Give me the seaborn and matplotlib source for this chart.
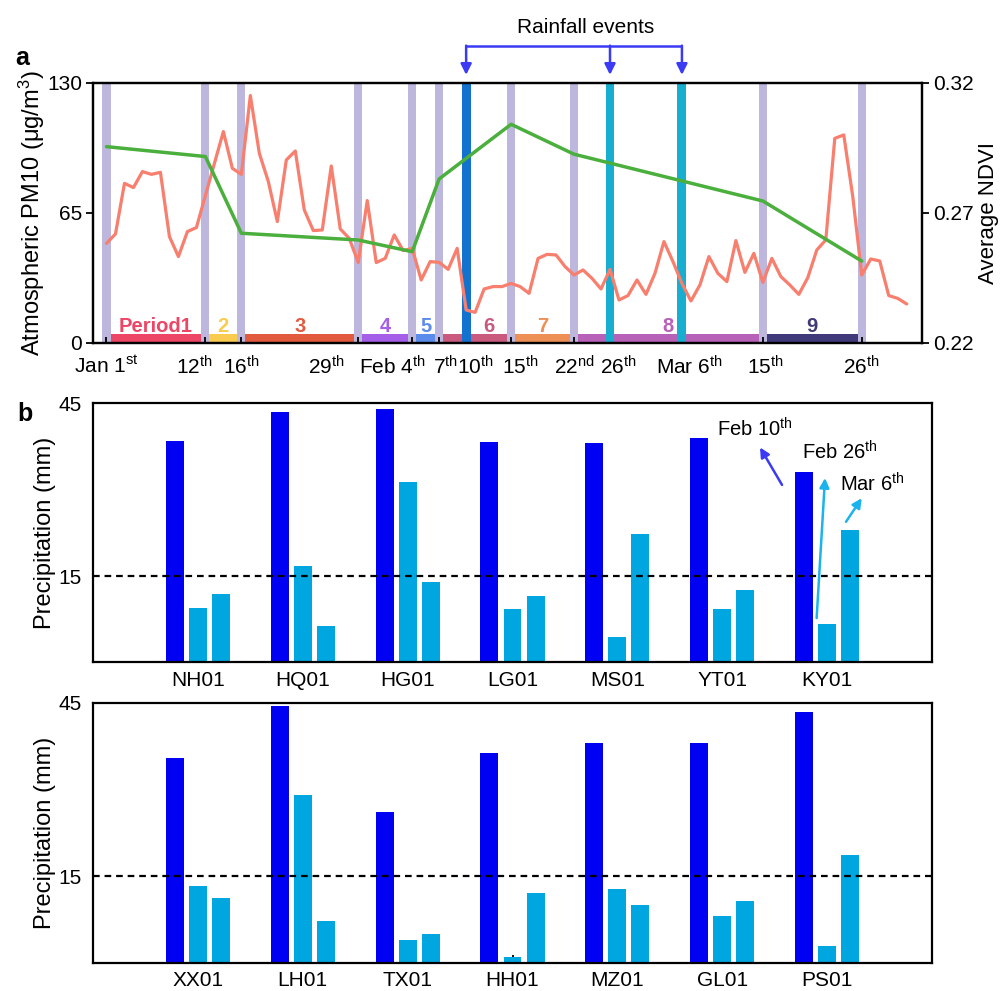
import numpy as np
import pandas as pd
import matplotlib
matplotlib.use('Agg')
import matplotlib.pyplot as plt
import matplotlib.transforms as mtransforms
import seaborn as sns

# ---------------- data : panel a ----------------
# daily PM10 (ug/m3), Jan 1st .. Mar 31st (day index 0..89)
pm10 = [49.8, 54.5, 79.8, 77.7, 85.7, 84.3, 85.3, 53.2, 43.2, 55.7,
        57.7, 73.7, 89.7, 105.7, 87.3, 84.3, 123.7, 94.8, 80.7, 60.7,
        91.5, 96.0, 66.5, 56.2, 56.5, 88.5, 57.0, 52.3, 40.2, 71.2,
        40.2, 42.3, 54.0, 46.2, 47.3, 31.5, 40.7, 40.3, 36.8, 47.3,
        16.5, 15.3, 27.0, 28.2, 28.2, 29.8, 28.2, 24.8, 42.3, 44.3,
        44.0, 38.2, 34.0, 36.5, 32.3, 27.0, 36.8, 21.5, 23.7, 31.5,
        24.3, 34.8, 50.7, 40.7, 29.8, 21.0, 29.0, 43.2, 34.8, 30.7,
        51.2, 35.3, 44.8, 30.3, 42.3, 33.2, 29.0, 24.3, 32.7, 46.5,
        51.5, 102.3, 104.0, 73.2, 34.0, 42.0, 41.0, 23.7, 22.3, 19.5]

# image acquisition days (days since Jan 1st) and average NDVI
image_days = [0, 11, 15, 28, 34, 37, 45, 52, 73, 84]
ndvi = [0.2955, 0.2917, 0.2622, 0.2596, 0.2551, 0.2831, 0.3041, 0.2926, 0.2746, 0.2515]

# rainfall events (days since Jan 1st)
rain_days = [40, 56, 64]

# x tick days and labels
tick_days = [0, 11, 15, 28, 34, 37, 40, 45, 52, 56, 64, 73, 84]
tick_labels = ['Jan 1$^{\\mathrm{st}}$', '12$^{\\mathrm{th}}$', '16$^{\\mathrm{th}}$',
               '29$^{\\mathrm{th}}$', 'Feb 4$^{\\mathrm{th}}$', '7$^{\\mathrm{th}}$',
               '10$^{\\mathrm{th}}$', '15$^{\\mathrm{th}}$', '22$^{\\mathrm{nd}}$',
               '26$^{\\mathrm{th}}$', 'Mar 6$^{\\mathrm{th}}$', '15$^{\\mathrm{th}}$',
               '26$^{\\mathrm{th}}$']

# periods
period_names = ['Period1', '2', '3', '4', '5', '6', '7', '8', '9']
period_start = [0, 11, 15, 28, 34, 37, 45, 52, 73]
period_end = [11, 15, 28, 34, 37, 45, 52, 73, 84]

# ---------------- data : panel b ----------------
events = ['Feb 10th', 'Feb 26th', 'Mar 6th']
sites_1 = ['NH01', 'HQ01', 'HG01', 'LG01', 'MS01', 'YT01', 'KY01']
feb10_1 = [38.4, 43.4, 44.0, 38.3, 38.0, 39.0, 33.1]
feb26_1 = [9.4, 16.8, 31.3, 9.2, 4.4, 9.3, 6.7]
mar6_1 = [11.8, 6.4, 13.9, 11.5, 22.2, 12.5, 22.9]

sites_2 = ['XX01', 'LH01', 'TX01', 'HH01', 'MZ01', 'GL01', 'PS01']
feb10_2 = [35.5, 44.4, 26.2, 36.4, 38.0, 38.1, 43.5]
feb26_2 = [13.3, 29.0, 3.9, 1.1, 12.8, 8.1, 2.9]
mar6_2 = [11.3, 7.3, 5.0, 12.1, 10.0, 10.7, 18.6]

threshold = 15

# ---------------- styles ----------------
LAV = '#BDB7DD'
RED = '#F87E6E'
GREEN = '#4BAF3D'
RAIN_COLORS = ['#1372CD', '#17AECF', '#17AECF']
PERIOD_COLORS = ['#EC4565', '#F9CC50', '#E25A3E', '#A45EE8', '#5B8BEB',
                 '#C95A7D', '#EE9055', '#B861B8', '#403A7A']
DARK_BLUE = '#0000F2'
LIGHT_BLUE = '#00A6DF'
ARROW_BLUE = '#3B3BF5'
ARROW_CYAN = '#1BB3EE'

sns.set_theme(style='white')
plt.rcParams['font.family'] = ['Liberation Sans', 'DejaVu Sans']
plt.rcParams['mathtext.fontset'] = 'custom'
plt.rcParams['mathtext.rm'] = 'Liberation Sans'
plt.rcParams['mathtext.it'] = 'Liberation Sans:italic'
plt.rcParams['mathtext.bf'] = 'Liberation Sans:bold'
for k in ['text.color', 'axes.labelcolor', 'xtick.color', 'ytick.color', 'axes.edgecolor']:
    plt.rcParams[k] = 'black'

fig = plt.figure(figsize=(10, 9.91), dpi=100)
axA = fig.add_axes([0.093, 0.6539, 0.829, 0.2624])
axB1 = fig.add_axes([0.093, 0.3315, 0.839, 0.2618])
axB2 = fig.add_axes([0.093, 0.0283, 0.839, 0.2624])

# ---------------- panel a ----------------
for d in image_days:
    axA.axvspan(d - 0.45, d + 0.45, color=LAV, lw=0, zorder=0.5)
for name, s, e, c in zip(period_names, period_start, period_end, PERIOD_COLORS):
    axA.bar((s + e) / 2, 4.5, width=(e - s) - 0.9, bottom=0, color=c, lw=0, zorder=0.6)
    if name == '6':
        xm = (rain_days[0] + e) / 2
    else:
        xm = (s + e) / 2
    axA.text(xm, 5.6, name, ha='center', va='baseline', color=c,
             fontsize=14.5, fontweight='bold', zorder=4)
for d, c in zip(rain_days, RAIN_COLORS):
    axA.axvspan(d - 0.5, d + 0.5, color=c, lw=0, zorder=0.8)

sns.lineplot(x=np.arange(len(pm10)), y=pm10, ax=axA, color=RED, lw=2.3, zorder=3)
axA.set_xlim(-1.5, 90.7)
axA.set_ylim(0, 130)
axA.set_yticks([0, 65, 130])
axA.set_xticks(tick_days)
axA.set_xticklabels(tick_labels)
axA.tick_params(axis='x', direction='in', length=4, width=1.3, labelsize=15, pad=9,
                bottom=True, top=False)
axA.tick_params(axis='y', direction='out', length=5, width=1.3, labelsize=15, left=True, pad=3)
axA.set_ylabel('Atmospheric PM10 (μg/m$^3$)', fontsize=17, labelpad=0)
axA.set_xlabel('')
label_shift_px = [0, -11, 0, -32, -20, 6, 9, 9, 0, 8, 7, 2, 0]
for lab, off in zip(axA.get_xticklabels(), label_shift_px):
    lab.set_transform(lab.get_transform() +
                      mtransforms.ScaledTranslation(off / 100, 0, fig.dpi_scale_trans))

axN = axA.twinx()
sns.lineplot(x=image_days, y=ndvi, ax=axN, color=GREEN, lw=2.5, zorder=3)
axN.set_ylim(0.22, 0.32)
axN.set_yticks([0.22, 0.27, 0.32])
axN.set_yticklabels(['%.2f' % v for v in [0.22, 0.27, 0.32]])
axN.tick_params(axis='y', direction='out', length=5, width=1.3, labelsize=15, right=True, pad=3)
axN.set_ylabel('Average NDVI', fontsize=16, labelpad=3)
for ax in (axA, axN):
    for sp in ax.spines.values():
        sp.set_linewidth(1.6)
        sp.set_color('black')

# rainfall bracket
trans = mtransforms.blended_transform_factory(axA.transData, axA.transAxes)
y_br = 1.1435
axA.plot([min(rain_days), max(rain_days)], [y_br, y_br], color=ARROW_BLUE, lw=1.8,
         transform=trans, clip_on=False, solid_capstyle='butt')
for d in rain_days:
    axA.annotate('', xy=(d, 1.031), xytext=(d, y_br), xycoords=trans, textcoords=trans,
                 arrowprops=dict(arrowstyle='-|>', color=ARROW_BLUE, lw=1.8,
                                 mutation_scale=16, shrinkA=0, shrinkB=0),
                 annotation_clip=False)
axA.text(np.mean(rain_days), 1.213, 'Rainfall events', transform=trans,
         ha='center', va='center', fontsize=15)

# ---------------- panel b ----------------
def bar_panel(ax, sites, v1, v2, v3):
    df = pd.DataFrame({
        'site': sites * 3,
        'event': [events[0]] * len(sites) + [events[1]] * len(sites) + [events[2]] * len(sites),
        'precip': v1 + v2 + v3,
    })
    sns.barplot(data=df, x='site', y='precip', hue='event', order=sites, hue_order=events,
                palette=[DARK_BLUE, LIGHT_BLUE, LIGHT_BLUE], width=0.66, gap=0.22,
                errorbar=None, legend=False, saturation=1, linewidth=0, ax=ax)
    ax.axhline(threshold, color='black', lw=1.6, ls=(0, (3, 2.2)), zorder=5)
    ax.set_xlim(-1, len(sites))
    ax.set_ylim(0, 45)
    ax.set_yticks([15, 45])
    ax.set_xlabel('')
    ax.set_ylabel('Precipitation (mm)', fontsize=17, labelpad=2)
    ax.tick_params(axis='x', direction='in', length=6, width=1.3, labelsize=15, pad=6,
                   bottom=True)
    ax.tick_params(axis='y', length=0, labelsize=15, pad=8)
    for sp in ax.spines.values():
        sp.set_linewidth(1.6)
        sp.set_color('black')

bar_panel(axB1, sites_1, feb10_1, feb26_1, mar6_1)
bar_panel(axB2, sites_2, feb10_2, feb26_2, mar6_2)

# event annotations (next to KY01)
axB1.text(5.31, 40.6, 'Feb 10$^{\\mathrm{th}}$', ha='center', va='center', fontsize=14.5)
axB1.text(6.12, 36.5, 'Feb 26$^{\\mathrm{th}}$', ha='center', va='center', fontsize=14.5)
axB1.text(6.43, 30.9, 'Mar 6$^{\\mathrm{th}}$', ha='center', va='center', fontsize=14.5)
arrow_kw = dict(arrowstyle='-|>', lw=1.8, mutation_scale=14, shrinkA=0, shrinkB=0)
axB1.annotate('', xy=(5.36, 37.3), xytext=(5.57, 30.8),
              arrowprops=dict(color=ARROW_BLUE, **arrow_kw))
axB1.annotate('', xy=(5.98, 32.0), xytext=(5.90, 7.7),
              arrowprops=dict(color=ARROW_CYAN, **arrow_kw))
axB1.annotate('', xy=(6.33, 28.5), xytext=(6.18, 24.4),
              arrowprops=dict(color=ARROW_CYAN, **arrow_kw))

# panel letters
fig.text(0.015, 1 - 65 / 991, 'a', fontsize=18, fontweight='bold', va='baseline')
fig.text(0.017, 1 - 421 / 991, 'b', fontsize=18, fontweight='bold', va='baseline')

fig.savefig('out.png', dpi=100)
